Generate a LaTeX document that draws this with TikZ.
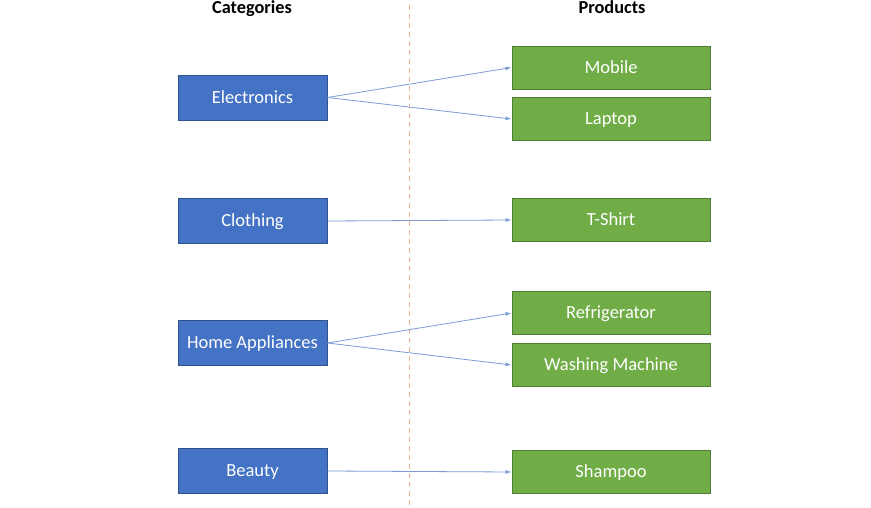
\documentclass[tikz,border=0pt]{standalone}
\usepackage{fontspec}
\setmainfont{Carlito}
\usetikzlibrary{arrows.meta}
\definecolor{catfill}{HTML}{4472C4}
\definecolor{catdraw}{HTML}{2F528F}
\definecolor{prodfill}{HTML}{70AD47}
\definecolor{proddraw}{HTML}{507E32}
\definecolor{linkc}{HTML}{7F9BD6}
\definecolor{divc}{HTML}{F4AE96}
\tikzset{
  boxtext/.style={text height=13pt, text depth=1.5pt, font=\fontsize{18.5}{22}\selectfont, text=white, inner sep=0pt},
  cat/.style={boxtext, draw=catdraw, line width=0.9pt, fill=catfill, minimum width=149pt, minimum height=45pt},
  prod/.style={boxtext, draw=proddraw, line width=0.9pt, fill=prodfill, minimum width=198pt, minimum height=43pt},
  link/.style={draw=linkc, line width=0.8pt, -{Latex[length=6pt,width=4pt]}},
  heading/.style={font=\bfseries\fontsize{18.3}{22}\selectfont, inner sep=0pt},
  divider/.style={draw=divc, line width=1pt, dash pattern=on 5pt off 4pt}
}
\begin{document}
\begin{tikzpicture}[x=1pt,y=-1pt]
\useasboundingbox (0,0) rectangle (871,508);
\fill[white] (0,0) rectangle (871,508);
\coordinate (dtop) at (409,5);
\coordinate (dbot) at (409,505);
\draw[divider] (dtop) -- (dbot);
\node[heading] (hcat) at (252,9) {Categories};
\node[heading] (hprod) at (612,7) {Products};
\node[cat] (elec) at (252.5,97.5) {Electronics};
\node[cat] (cloth) at (252.5,221) {Clothing};
\node[cat] (home) at (252.5,343) {Home Appliances};
\node[cat] (beauty) at (252.5,471) {Beauty};
\node[prod] (mobile) at (611,67.5) {Mobile};
\node[prod] (laptop) at (611,119) {Laptop};
\node[prod] (tshirt) at (611,220) {T-Shirt};
\node[prod] (fridge) at (611,313) {Refrigerator};
\node[prod] (wash) at (611,365) {Washing Machine};
\node[prod] (shampoo) at (611,472) {Shampoo};
\draw[link] (elec.east) -- (mobile.west);
\draw[link] (elec.east) -- (laptop.west);
\draw[link] (cloth.east) -- (tshirt.west);
\draw[link] (home.east) -- (fridge.west);
\draw[link] (home.east) -- (wash.west);
\draw[link] (beauty.east) -- (shampoo.west);
\end{tikzpicture}
\end{document}
